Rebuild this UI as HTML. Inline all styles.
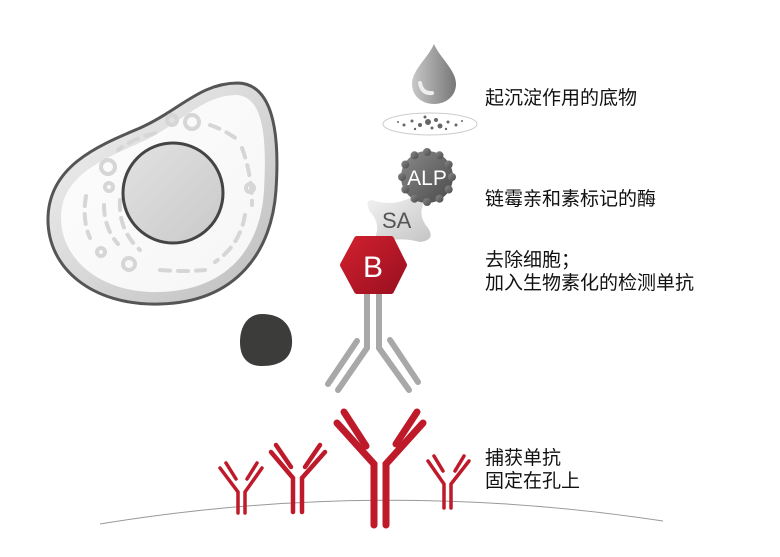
<!DOCTYPE html>
<html><head><meta charset="utf-8"><style>
html,body{margin:0;padding:0;background:#fff;width:780px;height:557px;overflow:hidden}
svg{display:block}
.t{font-family:"Liberation Sans","Noto Sans CJK SC",sans-serif;font-size:19px;fill:#111}
</style></head><body>
<svg width="780" height="557" viewBox="0 0 780 557">
<defs>
<linearGradient id="cg" x1="0" y1="0" x2="1" y2="1"><stop offset="0" stop-color="#f4f4f4"/><stop offset="1" stop-color="#bdbdbd"/></linearGradient>
<linearGradient id="ng" x1="0" y1="0" x2="1" y2="1"><stop offset="0" stop-color="#e2e2e2"/><stop offset="1" stop-color="#c9c9c9"/></linearGradient>
<linearGradient id="dg" x1="0" y1="0" x2="1" y2="0"><stop offset="0" stop-color="#c8c8c8"/><stop offset="1" stop-color="#777"/></linearGradient>
<linearGradient id="ag" x1="0" y1="0" x2="1" y2="1"><stop offset="0" stop-color="#8a8a8a"/><stop offset="1" stop-color="#4a4a4a"/></linearGradient>
<linearGradient id="sg" x1="0" y1="0" x2="1" y2="1"><stop offset="0" stop-color="#f2f2f2"/><stop offset="1" stop-color="#c4c4c4"/></linearGradient>
<linearGradient id="bg" x1="0" y1="0" x2="1" y2="1"><stop offset="0" stop-color="#d0202e"/><stop offset="1" stop-color="#9a1020"/></linearGradient>
</defs>
<!-- cell -->
<path d="M238 83 C272 84 280 130 276 190 C272 250 238 302 160 304 C92 306 47 268 48 218 C49 165 100 145 140 128 C180 110 200 83 238 83 Z" fill="url(#cg)" stroke="#555" stroke-width="3"/>
<path d="M236 95 C263 96 267 135 264 190 C261 245 230 290 160 292 C102 294 61 260 61 218 C61 172 110 157 148 139 C184 120 205 95 236 95 Z" fill="#fff" opacity="0.85"/>
<g fill="none" stroke="#d6d6d6" stroke-width="4" stroke-linecap="round">
<circle cx="172" cy="120" r="5"/><circle cx="192" cy="122" r="7"/><circle cx="108" cy="167" r="7"/><circle cx="109" cy="187" r="4"/><circle cx="250" cy="188" r="4"/><circle cx="101" cy="252" r="4"/><circle cx="129" cy="264" r="6"/>
<path d="M210 125 Q225 130 238 140" stroke-dasharray="10 8"/>
<path d="M242 148 Q252 175 252 205" stroke-dasharray="10 8"/>
<path d="M155 133 Q130 140 118 150" stroke-dasharray="10 8"/>
<path d="M86 196 Q82 220 90 238" stroke-dasharray="10 8"/>
<path d="M104 205 Q104 228 118 244" stroke-dasharray="10 8"/>
<path d="M245 215 Q240 245 215 262" stroke-dasharray="10 8"/>
<path d="M160 270 Q185 272 205 270" stroke-dasharray="10 8"/>
<path d="M120 200 Q118 230 140 250" stroke-dasharray="10 8"/>
</g>
<circle cx="173" cy="193" r="50" fill="url(#ng)" stroke="#444" stroke-width="3"/>
<!-- dark blob -->
<path d="M262 314 C284 314 293 328 292 344 C291 360 278 366 262 366 C248 366 240 358 240 342 C240 326 248 314 262 314 Z" fill="#3c3c3b"/>
<!-- grey antibody -->
<g stroke="#a8a8a8" stroke-width="6" stroke-linecap="round" fill="none">
<path d="M367 290 L367 348 L338 390"/>
<path d="M379 290 L379 348 L409 390"/>
<path d="M357 341 L328 384"/>
<path d="M390 340 L418 382"/>
</g>
<!-- drop -->
<path d="M434 44 C440 58 456 70 456 84 C456 96 446 104 434 104 C422 104 412 96 412 84 C412 70 428 58 434 44 Z" fill="url(#dg)"/>
<path d="M420 83 Q422 94 432 93" stroke="#eee" stroke-width="4" fill="none" stroke-linecap="round"/>
<!-- dish -->
<ellipse cx="430" cy="124" rx="47" ry="11" fill="#fff" stroke="#ccc" stroke-width="1"/>
<g fill="#666">
<circle cx="428" cy="122" r="3"/><circle cx="420" cy="125" r="2"/><circle cx="436" cy="120" r="2"/><circle cx="440" cy="126" r="2.5"/><circle cx="412" cy="121" r="1.5"/><circle cx="448" cy="122" r="1.5"/><circle cx="404" cy="125" r="1.5"/><circle cx="456" cy="125" r="1.5"/><circle cx="425" cy="117" r="1.5"/><circle cx="432" cy="128" r="1.5"/><circle cx="415" cy="129" r="1.2"/><circle cx="446" cy="129" r="1.2"/><circle cx="398" cy="122" r="1"/><circle cx="462" cy="121" r="1"/>
</g>
<!-- SA -->
<path d="M372 200 Q390 206 405 200 Q420 194 423 205 Q418 216 428 228 Q436 240 420 242 Q405 238 392 240 Q378 248 376 235 Q380 222 370 212 Q364 200 372 200 Z" fill="url(#sg)"/>
<text x="382" y="228" font-family="Liberation Sans,sans-serif" font-size="22" fill="#555">SA</text>
<!-- ALP -->
<g transform="translate(427,177)">
<circle r="26" fill="url(#ag)"/>
<g fill="url(#ag)">
<circle cx="0" cy="-25" r="4"/><circle cx="12.5" cy="-21.7" r="4"/><circle cx="21.7" cy="-12.5" r="4"/><circle cx="25" cy="0" r="4"/><circle cx="21.7" cy="12.5" r="4"/><circle cx="12.5" cy="21.7" r="4"/><circle cx="0" cy="25" r="4"/><circle cx="-12.5" cy="21.7" r="4"/><circle cx="-21.7" cy="12.5" r="4"/><circle cx="-25" cy="0" r="4"/><circle cx="-21.7" cy="-12.5" r="4"/><circle cx="-12.5" cy="-21.7" r="4"/>
</g>
<text x="0" y="8" text-anchor="middle" font-family="Liberation Sans,sans-serif" font-size="21" fill="#fff">ALP</text>
</g>
<!-- B hexagon -->
<path d="M357 239 L391 239 L404 265 L391 291 L357 291 L343 265 Z" fill="url(#bg)" stroke="url(#bg)" stroke-width="6" stroke-linejoin="round"/>
<text x="373" y="277" text-anchor="middle" font-family="Liberation Sans,sans-serif" font-size="30" fill="#fff">B</text>
<!-- baseline -->
<path d="M100 524 Q380 478 663 521" stroke="#999" stroke-width="1" fill="none"/>
<!-- red antibodies -->
<g stroke="#be1a2a" stroke-linecap="round" fill="none">
<g stroke-width="7">
<path d="M374 525 L374 464 L337 423"/>
<path d="M386 525 L386 464 L423 423"/>
<path d="M344 412 L366 446"/>
<path d="M417 412 L396 444"/>
</g>
<g stroke-width="4.5">
<path d="M293 512 L293 478 L271 452"/>
<path d="M302 512 L302 478 L325 452"/>
<path d="M276 445 L291 467"/>
<path d="M320 445 L305 467"/>
</g>
<g stroke-width="3.5">
<path d="M238 513 L238 492 L220 468"/>
<path d="M245 513 L245 492 L262 468"/>
<path d="M226 463 L236 479"/>
<path d="M257 463 L247 479"/>
</g>
<g stroke-width="3.5">
<path d="M444 508 L444 484 L428 461"/>
<path d="M451 508 L451 484 L469 461"/>
<path d="M434 456 L443 471"/>
<path d="M464 456 L455 471"/>
</g>
</g>
<!-- labels -->
<text class="t" x="485" y="104">起沉淀作用的底物</text>
<text class="t" x="485" y="205">链霉亲和素标记的酶</text>
<text class="t" x="485" y="266">去除细胞；</text>
<text class="t" x="485" y="289">加入生物素化的检测单抗</text>
<text class="t" x="485" y="464">捕获单抗</text>
<text class="t" x="485" y="487">固定在孔上</text>
</svg>
</body></html>
